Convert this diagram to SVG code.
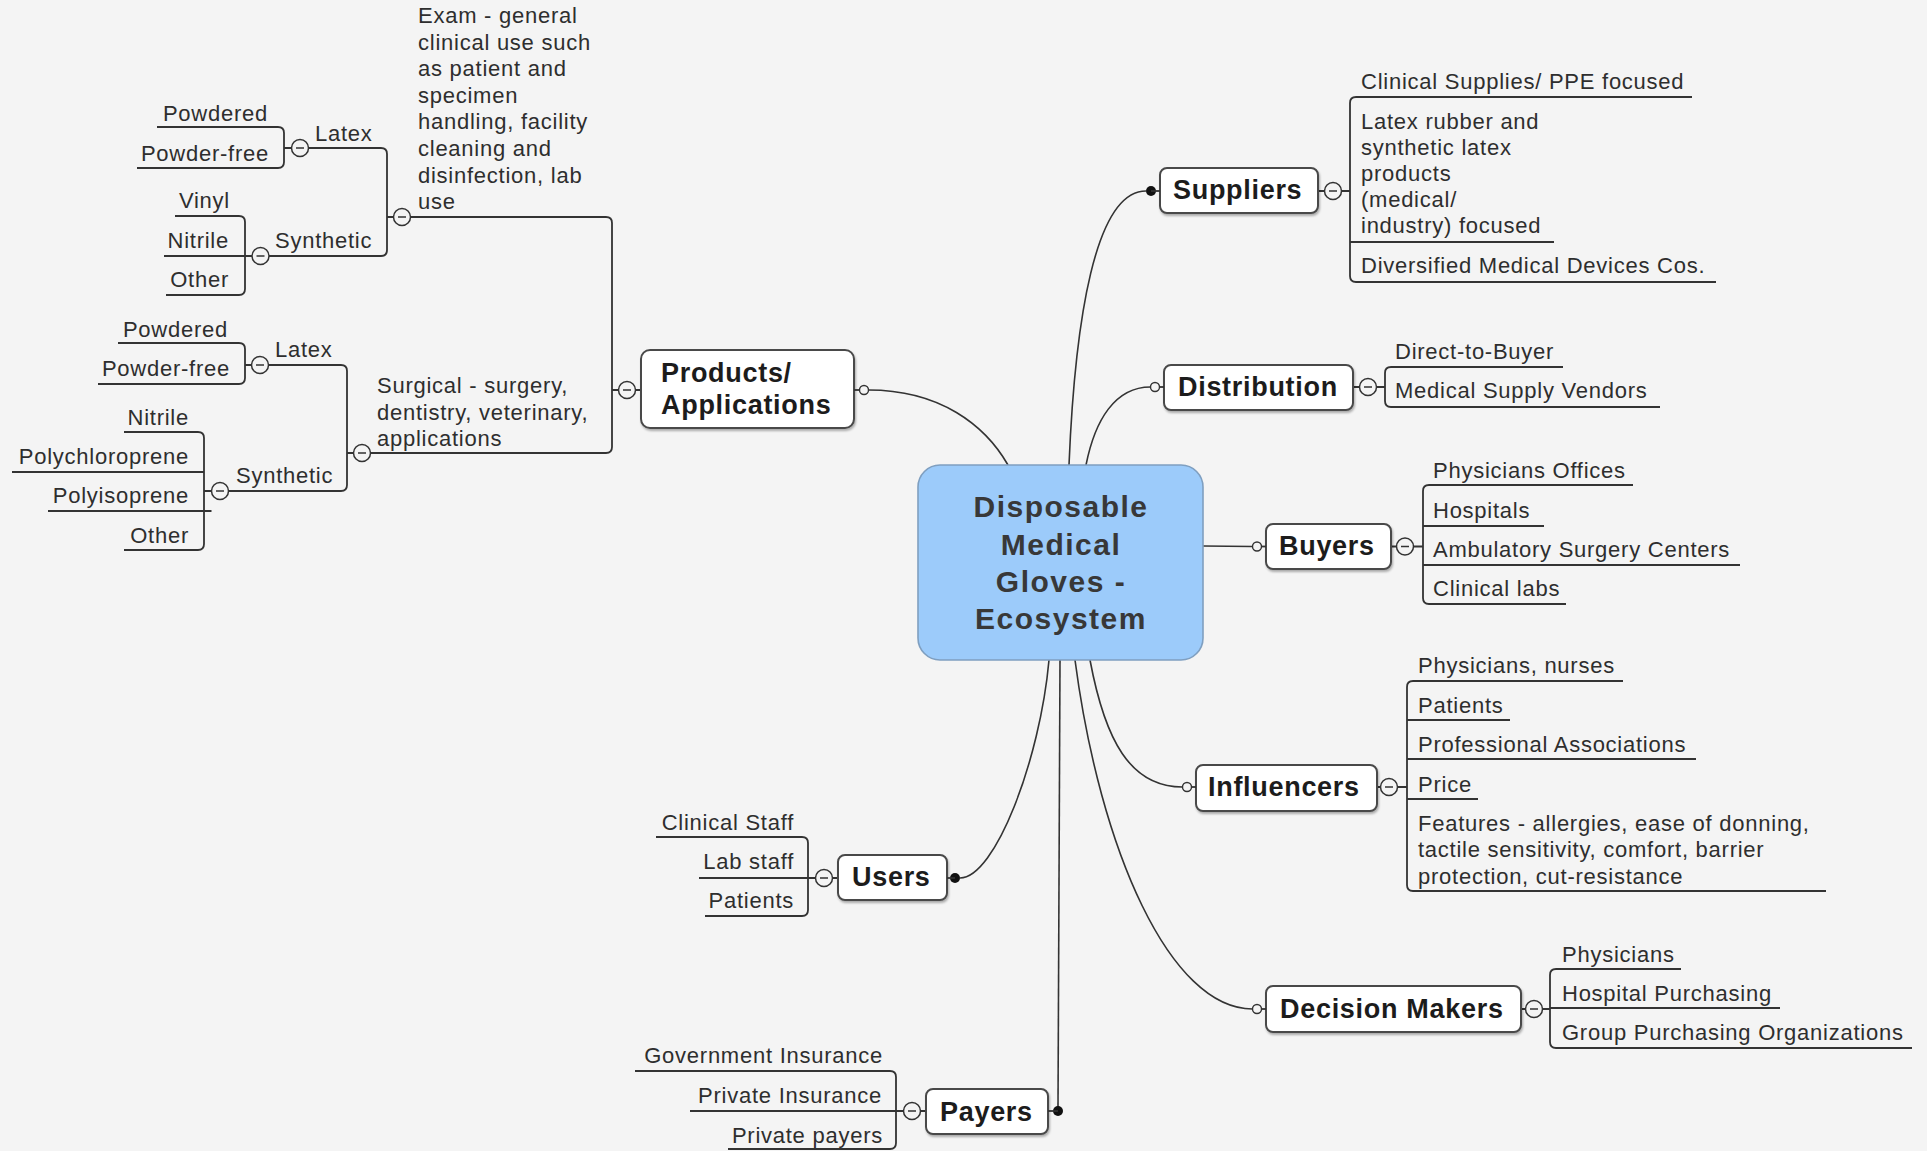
<svg xmlns="http://www.w3.org/2000/svg" xmlns:xlink="http://www.w3.org/1999/xlink" width="1927" height="1151" viewBox="0 0 1927 1151">
<style>
.t{font-family:"Liberation Sans",Arial,sans-serif;font-size:22px;letter-spacing:0.75px;fill:#2e2e2e}
.e{text-anchor:end}
.b{font-family:"Liberation Sans",Arial,sans-serif;font-weight:bold;font-size:27px;letter-spacing:0.7px;fill:#1c1c1c}
.c{font-family:"Liberation Sans",Arial,sans-serif;font-weight:bold;font-size:30px;letter-spacing:1.5px;fill:#383838;text-anchor:middle}
.ln{fill:none;stroke:#333;stroke-width:1.8}
.cn{fill:none;stroke:#333;stroke-width:1.6}
.box{fill:#fff;stroke:#4a4a4a;stroke-width:2;filter:url(#sh)}
.oc{fill:#f4f4f4;stroke:#333;stroke-width:1.4}
.dot{fill:#111}
</style>
<defs>
<filter id="sh" x="-10%" y="-20%" width="120%" height="150%">
<feDropShadow dx="1" dy="2" stdDeviation="1.2" flood-color="#000" flood-opacity="0.3"/>
</filter>
<g id="minus">
<circle cx="0" cy="0" r="8.5" fill="#f4f4f4" stroke="#333" stroke-width="1.5"/>
<line x1="-4" y1="0" x2="4" y2="0" stroke="#333" stroke-width="1.5"/>
</g>
</defs>
<rect x="0" y="0" width="1927" height="1151" fill="#f4f4f4"/>

<g id="connectors">
<!-- center to main topics -->
<path class="cn" d="M868.5 390 C940 390 985 425 1008 465"/>
<path class="cn" d="M1069 465 C1075 320 1095 191 1146 191"/>
<path class="cn" d="M1086 465 C1095 420 1115 387 1150.5 387"/>
<path class="cn" d="M1203 546 L1252.5 546.5"/>
<path class="cn" d="M1090 660 C1105 740 1130 787 1182.5 787"/>
<path class="cn" d="M1075 660 C1100 850 1170 1009 1252.5 1009"/>
<path class="cn" d="M960 878 C995 878 1040 760 1049 660"/>
<path class="cn" d="M1060 660 L1058 1107"/>
<!-- left brackets -->
<path class="ln" d="M606 217 Q612 217 612 223 V447 Q612 453 606 453 M612 390 H618.5 M635.5 390 H641"/>
<path class="ln" d="M381 148 Q387 148 387 154 V250 Q387 256 381 256 M387 217 H393.5"/>
<path class="ln" d="M278 127 Q284 127 284 133 V162 Q284 168 278 168 M284 148 H291.5"/>
<path class="ln" d="M239 216 Q245 216 245 222 V289 Q245 295 239 295"/>
<path class="ln" d="M341 365 Q347 365 347 371 V485 Q347 491 341 491 M347 453 H353.5"/>
<path class="ln" d="M239 343 Q245 343 245 349 V378 Q245 384 239 384 M245 365 H251.5"/>
<path class="ln" d="M198 432 Q204 432 204 438 V544 Q204 550 198 550 M204 491 H211.5"/>
<path class="ln" d="M802 837 Q808 837 808 843 V910 Q808 916 802 916 M832.5 878 H838"/>
<path class="ln" d="M890 1071 Q896 1071 896 1077 V1143 Q896 1149 890 1149 M920.5 1111 H926"/>
<!-- right brackets -->
<path class="ln" d="M1356 97 Q1350 97 1350 103 V276 Q1350 282 1356 282 M1341.5 191 H1350 M1318 191 H1324.5"/>
<path class="ln" d="M1391 367 Q1385 367 1385 373 V401 Q1385 407 1391 407 M1376.5 387 H1385 M1353 387 H1359.5"/>
<path class="ln" d="M1429 485 Q1423 485 1423 491 V598 Q1423 604 1429 604 M1413.5 546.5 H1423 M1391 546.5 H1396.5"/>
<path class="ln" d="M1413 681 Q1407 681 1407 687 V885 Q1407 891 1413 891 M1397.5 787 H1407 M1377 787 H1380.5"/>
<path class="ln" d="M1556 969 Q1550 969 1550 975 V1042 Q1550 1048 1556 1048 M1542.5 1009 H1550 M1521 1009 H1525.5"/>
</g>

<g id="center">
<rect x="918" y="465" width="285" height="195" rx="22" fill="#9ccbfa" stroke="#7f9fc0" stroke-width="1.6"/>
<text class="c" x="1061" y="517">Disposable</text>
<text class="c" x="1061" y="555">Medical</text>
<text class="c" x="1061" y="592">Gloves -</text>
<text class="c" x="1061" y="629">Ecosystem</text>
</g>

<g id="products">
<rect class="box" x="641" y="350" width="213" height="78" rx="9"/>
<text class="b" x="661" y="382">Products/</text>
<text class="b" x="661" y="414">Applications</text>
<use href="#minus" x="627" y="390"/>
<circle class="oc" cx="864" cy="390" r="4.5"/>
<path class="ln" d="M854 390 H859.5"/>
</g>

<g id="exam">
<text class="t" x="418" y="23">Exam - general</text>
<text class="t" x="418" y="50">clinical use such</text>
<text class="t" x="418" y="76">as patient and</text>
<text class="t" x="418" y="103">specimen</text>
<text class="t" x="418" y="129">handling, facility</text>
<text class="t" x="418" y="156">cleaning and</text>
<text class="t" x="418" y="183">disinfection, lab</text>
<text class="t" x="418" y="209">use</text>
<path class="ln" d="M410.5 217 H606"/>
<use href="#minus" x="402" y="217"/>
</g>

<g id="exam-latex">
<text class="t" x="315" y="141">Latex</text>
<path class="ln" d="M308.5 148 H381"/>
<use href="#minus" x="300" y="148"/>
</g>
<g id="exam-latex-powdered"><text class="t e" x="268" y="121">Powdered</text><path class="ln" d="M157 127 H278"/></g>
<g id="exam-latex-powderfree"><text class="t e" x="269" y="161">Powder-free</text><path class="ln" d="M137 168 H278"/></g>

<g id="exam-synthetic">
<text class="t" x="275" y="248">Synthetic</text>
<path class="ln" d="M269 256 H381"/>
<use href="#minus" x="260.5" y="256"/>
</g>
<g id="exam-vinyl"><text class="t e" x="230" y="208">Vinyl</text><path class="ln" d="M175 216 H239"/></g>
<g id="exam-nitrile"><text class="t e" x="229" y="248">Nitrile</text><path class="ln" d="M164 256 H252"/></g>
<g id="exam-other"><text class="t e" x="229" y="287">Other</text><path class="ln" d="M166 295 H239"/></g>

<g id="surgical">
<text class="t" x="377" y="393">Surgical - surgery,</text>
<text class="t" x="377" y="420">dentistry, veterinary,</text>
<text class="t" x="377" y="446">applications</text>
<path class="ln" d="M370.5 453 H606"/>
<use href="#minus" x="362" y="453"/>
</g>

<g id="surg-latex">
<text class="t" x="275" y="357">Latex</text>
<path class="ln" d="M268.5 365 H341"/>
<use href="#minus" x="260" y="365"/>
</g>
<g id="surg-latex-powdered"><text class="t e" x="228" y="337">Powdered</text><path class="ln" d="M118 343 H239"/></g>
<g id="surg-latex-powderfree"><text class="t e" x="230" y="376">Powder-free</text><path class="ln" d="M98 384 H239"/></g>

<g id="surg-synthetic">
<text class="t" x="236" y="483">Synthetic</text>
<path class="ln" d="M228.5 491 H341"/>
<use href="#minus" x="220" y="491"/>
</g>
<g id="surg-nitrile"><text class="t e" x="189" y="425">Nitrile</text><path class="ln" d="M124 432 H198"/></g>
<g id="surg-polychloroprene"><text class="t e" x="189" y="464">Polychloroprene</text><path class="ln" d="M12 472 H204"/></g>
<g id="surg-polyisoprene"><text class="t e" x="189" y="503">Polyisoprene</text><path class="ln" d="M48 511 H211.5"/></g>
<g id="surg-other"><text class="t e" x="189" y="543">Other</text><path class="ln" d="M124 550 H198"/></g>

<g id="suppliers">
<rect class="box" x="1160" y="168" width="158" height="45" rx="7"/>
<text class="b" x="1173" y="199">Suppliers</text>
<circle class="dot" cx="1151" cy="191" r="5"/>
<path class="ln" d="M1151 191 H1160"/>
<use href="#minus" x="1333" y="191"/>
</g>
<g id="sup-clinical"><text class="t" x="1361" y="89">Clinical Supplies/ PPE focused</text><path class="ln" d="M1356 97 H1692"/></g>
<g id="sup-latex">
<text class="t" x="1361" y="129">Latex rubber and</text>
<text class="t" x="1361" y="155">synthetic latex</text>
<text class="t" x="1361" y="181">products</text>
<text class="t" x="1361" y="207">(medical/</text>
<text class="t" x="1361" y="233">industry) focused</text>
<path class="ln" d="M1350 242 H1554"/>
</g>
<g id="sup-diversified"><text class="t" x="1361" y="273">Diversified Medical Devices Cos.</text><path class="ln" d="M1356 282 H1716"/></g>

<g id="distribution">
<rect class="box" x="1164" y="365" width="189" height="45" rx="7"/>
<text class="b" x="1178" y="396">Distribution</text>
<circle class="oc" cx="1155" cy="387" r="4.5"/>
<path class="ln" d="M1159.5 387 H1164"/>
<use href="#minus" x="1368" y="387"/>
</g>
<g id="dist-direct"><text class="t" x="1395" y="359">Direct-to-Buyer</text><path class="ln" d="M1391 367 H1563"/></g>
<g id="dist-vendors"><text class="t" x="1395" y="398">Medical Supply Vendors</text><path class="ln" d="M1391 407 H1660"/></g>

<g id="buyers">
<rect class="box" x="1266" y="524" width="125" height="45" rx="7"/>
<text class="b" x="1279" y="555">Buyers</text>
<circle class="oc" cx="1257" cy="546.5" r="4.5"/>
<path class="ln" d="M1261.5 546.5 H1266"/>
<use href="#minus" x="1405" y="546.5"/>
</g>
<g id="buy-physicians"><text class="t" x="1433" y="478">Physicians Offices</text><path class="ln" d="M1429 485 H1633"/></g>
<g id="buy-hospitals"><text class="t" x="1433" y="518">Hospitals</text><path class="ln" d="M1423 526 H1544"/></g>
<g id="buy-ambulatory"><text class="t" x="1433" y="557">Ambulatory Surgery Centers</text><path class="ln" d="M1423 565 H1740"/></g>
<g id="buy-labs"><text class="t" x="1433" y="596">Clinical labs</text><path class="ln" d="M1429 604 H1566"/></g>

<g id="influencers">
<rect class="box" x="1196" y="765" width="181" height="46" rx="7"/>
<text class="b" x="1208" y="796">Influencers</text>
<circle class="oc" cx="1187" cy="787" r="4.5"/>
<path class="ln" d="M1191.5 787 H1196"/>
<use href="#minus" x="1389" y="787"/>
</g>
<g id="inf-physicians"><text class="t" x="1418" y="673">Physicians, nurses</text><path class="ln" d="M1413 681 H1623"/></g>
<g id="inf-patients"><text class="t" x="1418" y="713">Patients</text><path class="ln" d="M1407 720 H1510"/></g>
<g id="inf-associations"><text class="t" x="1418" y="752">Professional Associations</text><path class="ln" d="M1407 759 H1696"/></g>
<g id="inf-price"><text class="t" x="1418" y="792">Price</text><path class="ln" d="M1407 799 H1478"/></g>
<g id="inf-features">
<text class="t" x="1418" y="831">Features - allergies, ease of donning,</text>
<text class="t" x="1418" y="857">tactile sensitivity, comfort, barrier</text>
<text class="t" x="1418" y="884">protection, cut-resistance</text>
<path class="ln" d="M1413 891 H1826"/>
</g>

<g id="decision-makers">
<rect class="box" x="1266" y="986" width="255" height="46" rx="7"/>
<text class="b" x="1280" y="1018">Decision Makers</text>
<circle class="oc" cx="1257" cy="1009" r="4.5"/>
<path class="ln" d="M1261.5 1009 H1266"/>
<use href="#minus" x="1534" y="1009"/>
</g>
<g id="dm-physicians"><text class="t" x="1562" y="962">Physicians</text><path class="ln" d="M1556 969 H1681"/></g>
<g id="dm-hospital"><text class="t" x="1562" y="1001">Hospital Purchasing</text><path class="ln" d="M1550 1008 H1780"/></g>
<g id="dm-gpo"><text class="t" x="1562" y="1040">Group Purchasing Organizations</text><path class="ln" d="M1556 1048 H1912"/></g>

<g id="users">
<rect class="box" x="838" y="855" width="109" height="45" rx="7"/>
<text class="b" x="852" y="886">Users</text>
<circle class="dot" cx="955" cy="878" r="5"/>
<path class="ln" d="M947 878 H955"/>
<use href="#minus" x="824" y="878"/>
</g>
<g id="users-clinical"><text class="t e" x="794" y="830">Clinical Staff</text><path class="ln" d="M656 837 H802"/></g>
<g id="users-lab"><text class="t e" x="794" y="869">Lab staff</text><path class="ln" d="M699 878 H815.5"/></g>
<g id="users-patients"><text class="t e" x="794" y="908">Patients</text><path class="ln" d="M705 916 H802"/></g>

<g id="payers">
<rect class="box" x="926" y="1089" width="122" height="45" rx="7"/>
<text class="b" x="940" y="1121">Payers</text>
<circle class="dot" cx="1058" cy="1111" r="5"/>
<path class="ln" d="M1048 1111 H1058"/>
<use href="#minus" x="912" y="1111"/>
</g>
<g id="payers-gov"><text class="t e" x="883" y="1063">Government Insurance</text><path class="ln" d="M635 1071 H890"/></g>
<g id="payers-private-ins"><text class="t e" x="882" y="1103">Private Insurance</text><path class="ln" d="M690 1111 H903.5"/></g>
<g id="payers-private"><text class="t e" x="883" y="1143">Private payers</text><path class="ln" d="M728 1149 H890"/></g>
</svg>
